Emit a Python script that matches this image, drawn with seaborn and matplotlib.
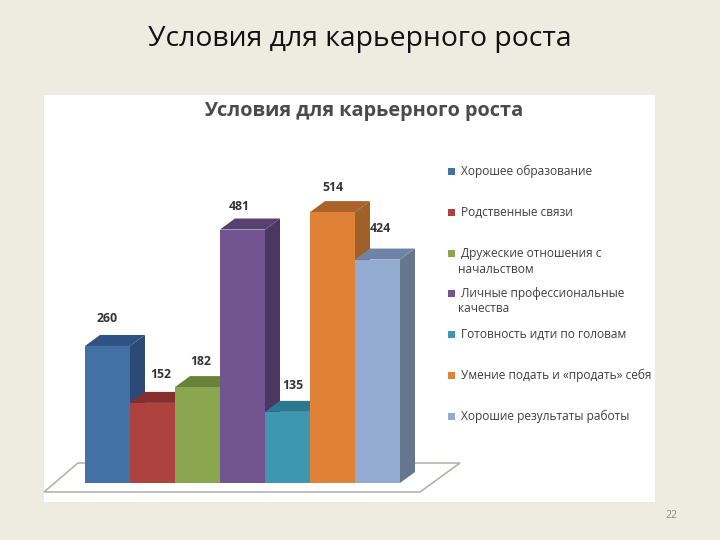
import matplotlib
matplotlib.use("Agg")
import matplotlib.pyplot as plt
from matplotlib.patches import Polygon, Rectangle
import pandas as pd
import seaborn as sns

categories = ["Хорошее образование", "Родственные связи",
              "Дружеские отношения с начальством",
              "Личные профессиональные качества",
              "Готовность идти по головам",
              "Умение подать и «продать» себя",
              "Хорошие результаты работы"]
values = [260, 152, 182, 481, 135, 514, 424]
front_colors = ["#4371A6", "#AD423F", "#8AA64F", "#725590", "#3E97B0", "#DF8238", "#93ABD1"]
top_colors = ["#2F5285", "#862E2C", "#6A8238", "#55406F", "#2B7890", "#A8622A", "#6F83A6"]
side_colors = ["#2C4A75", "#7F2C2A", "#5F7532", "#4B3860", "#266C82", "#A0602A", "#64778F"]
legend_lines = [["Хорошее образование"], ["Родственные связи"],
                ["Дружеские отношения с", "начальством"],
                ["Личные профессиональные", "качества"],
                ["Готовность идти по головам"],
                ["Умение подать и «продать» себя"],
                ["Хорошие результаты работы"]]
slide_title = "Условия для карьерного роста"
page_number = "22"

W, H = 720, 540
sns.set_theme(style="white")
plt.rcParams["font.family"] = ["Open Sans", "DejaVu Sans"]
fig = plt.figure(figsize=(W / 100, H / 100), dpi=100, facecolor="#EEEBE1")


def fx(px):
    return px / W


def fy(py):
    return 1 - py / H


# White picture panel
fig.patches.append(Rectangle((fx(44), fy(502)), 611 / W, 407 / H, transform=fig.transFigure,
                             facecolor="white", edgecolor="none", zorder=0))

# Plot area: 45 px per category, 0.527 px per unit
ax = fig.add_axes([fx(85), fy(483), 315 / W, 300 / H], facecolor="none", zorder=2)
df = pd.DataFrame({"category": categories, "value": values})
sns.barplot(data=df, x="category", y="value", hue="category", palette=front_colors,
            saturation=1, width=1, dodge=False, legend=False, ax=ax)
ax.set_xlim(-0.5, 6.5)
ax.set_ylim(0, 300 / 0.527)
ax.set_axis_off()

# 3-D depth in data units
dx = 15 / 45
dy = 11 / 0.527


def from_px(px, py):
    return (px - 85) / 45 - 0.5, (483 - py) / 0.527


# Floor
floor_outer = [from_px(78, 463), from_px(460, 463), from_px(420, 492), from_px(44, 492)]
ax.add_patch(Polygon(floor_outer, closed=True, facecolor="white", edgecolor="#B4B4AF",
                     linewidth=1.2, clip_on=False, zorder=1))

label_shift = [(0, 27), (8, 28), (3, 26), (-3, 23), (5, 26), (0, 25), (3, 31)]
for i, (bar, v) in enumerate(zip(ax.patches, values)):
    x0, x1 = bar.get_x(), bar.get_x() + bar.get_width()
    bar.set_zorder(10 + 3 * i + 2)
    bar.set_edgecolor("none")
    ax.add_patch(Polygon([(x1, 0), (x1 + dx, dy), (x1 + dx, v + dy), (x1, v)], closed=True,
                         facecolor=side_colors[i], edgecolor="none", clip_on=False,
                         zorder=10 + 3 * i))
    ax.add_patch(Polygon([(x0, v), (x0 + dx, v + dy), (x1 + dx, v + dy), (x1, v)], closed=True,
                         facecolor=top_colors[i], edgecolor="none", clip_on=False,
                         zorder=10 + 3 * i + 1))
    sx, sy = label_shift[i]
    ax.annotate(str(v), (i, v), xytext=(sx * 0.72, sy * 0.72), textcoords="offset points",
                ha="center", va="center", fontsize=8.8, fontweight="bold", color="#333333",
                zorder=60)

# Legend
row_y = [171, 212, 253, 293, 334, 375, 416]
for lines, color, y in zip(legend_lines, front_colors, row_y):
    fig.patches.append(Rectangle((fx(448), fy(y + 3.5)), 7 / W, 7 / H, transform=fig.transFigure,
                                 facecolor=color, edgecolor="none", zorder=3))
    fig.text(fx(461), fy(y), lines[0], ha="left", va="center", fontsize=8.6,
             color="#3F3F3F", zorder=4)
    if len(lines) > 1:
        fig.text(fx(458), fy(y + 16), lines[1], ha="left", va="center", fontsize=8.6,
                 color="#3F3F3F", zorder=4)

# Titles and page number
fig.text(fx(148), fy(39), slide_title, ha="left", va="center", fontsize=20.4,
         color="#111111", zorder=4)
fig.text(fx(204), fy(111), slide_title, ha="left", va="center", fontsize=14.3,
         fontweight="bold", color="#4A4A4A", zorder=4)
fig.text(fx(677), fy(515), page_number, ha="right", va="center", fontsize=7.5,
         color="#8A8A8A", zorder=4)

fig.savefig("out.png", dpi=100, facecolor=fig.get_facecolor())
